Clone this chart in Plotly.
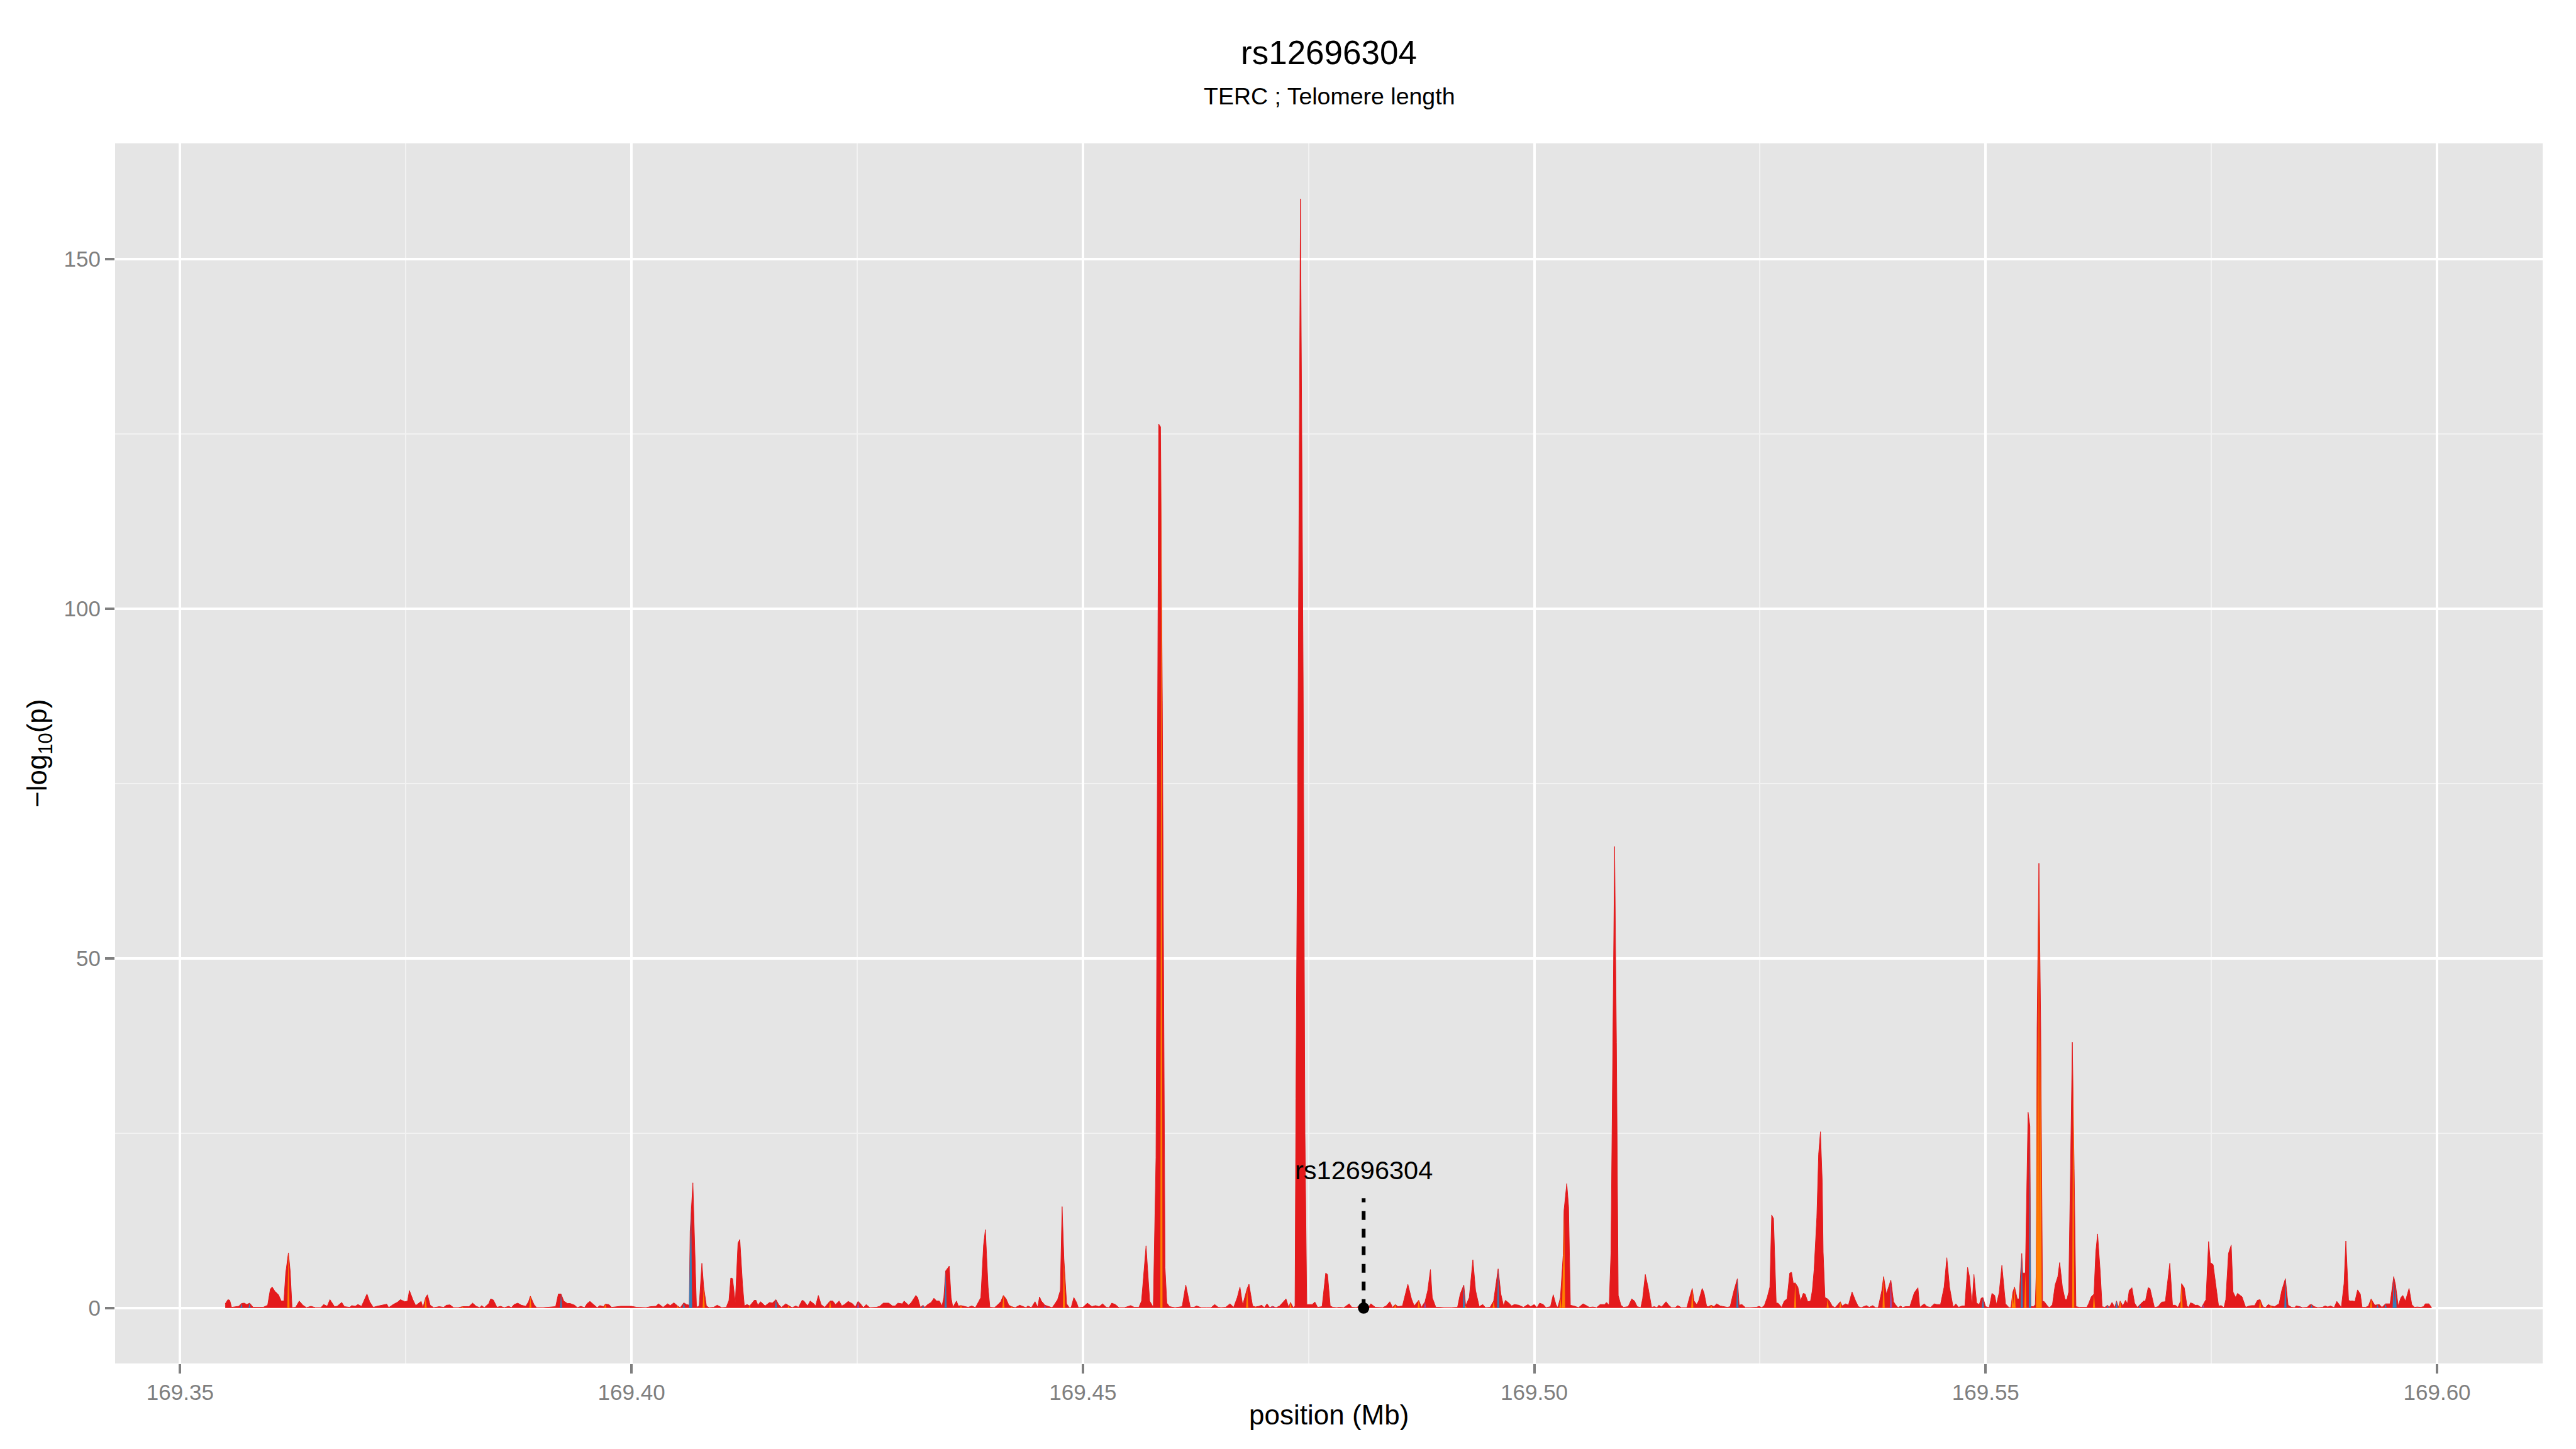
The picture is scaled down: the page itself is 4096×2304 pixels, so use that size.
import plotly.graph_objects as go

# ---------------- data (position in Mb, -log10 p) ----------------
red_35_40 = [
    (169.3550, 0.6), (169.3553, 1.2), (169.3555, 1.1), (169.3557, 0.1), (169.3565, 0.25),
    (169.3568, 0.65), (169.3571, 0.7), (169.3574, 0.5), (169.3577, 0.7), (169.3581, 0.1),
    (169.3592, 0.1), (169.3597, 0.4), (169.3600, 2.7), (169.3602, 3.0), (169.3605, 2.4),
    (169.3609, 1.9), (169.3612, 1.0), (169.3615, 1.0), (169.3617, 5.0), (169.3620, 7.9),
    (169.3622, 5.2), (169.3624, 0.05), (169.3628, 0.1), (169.3632, 1.0), (169.3636, 0.4),
    (169.3640, 0.05), (169.3645, 0.25), (169.3650, 0.05), (169.3656, 0.05), (169.3659, 0.5),
    (169.3663, 0.25), (169.3666, 1.2), (169.3671, 0.2), (169.3674, 0.25), (169.3679, 0.8),
    (169.3682, 0.2), (169.3688, 0.1), (169.3690, 0.35), (169.3694, 0.25), (169.3697, 0.5),
    (169.3701, 0.25), (169.3707, 2.0), (169.3710, 0.9), (169.3714, 0.1), (169.3718, 0.25),
    (169.3723, 0.4), (169.3729, 0.55), (169.3731, 0.05), (169.3736, 0.5), (169.3741, 0.85),
    (169.3744, 1.2), (169.3749, 0.9), (169.3752, 1.0), (169.3754, 2.5), (169.3758, 1.15),
    (169.3761, 0.35), (169.3764, 0.65), (169.3767, 0.95), (169.3769, 0.05), (169.3772, 1.5),
    (169.3774, 1.9), (169.3777, 0.4), (169.3781, 0.05), (169.3787, 0.2), (169.3792, 0.1),
    (169.3795, 0.4), (169.3799, 0.45), (169.3803, 0.05), (169.3808, 0.05), (169.3813, 0.2),
    (169.3820, 0.2), (169.3824, 0.7), (169.3828, 0.25), (169.3832, 0.05), (169.3834, 0.35),
    (169.3837, 0.05), (169.3842, 0.65), (169.3844, 1.3), (169.3847, 1.15), (169.3851, 0.1),
    (169.3855, 0.25), (169.3859, 0.05), (169.3864, 0.25), (169.3867, 0.05), (169.3870, 0.5),
    (169.3874, 0.7), (169.3878, 0.4), (169.3883, 0.25), (169.3886, 0.9), (169.3888, 1.7),
    (169.3892, 0.5), (169.3895, 0.05), (169.3902, 0.05), (169.3907, 0.1), (169.3911, 0.2),
    (169.3916, 0.2), (169.3919, 2.0), (169.3922, 2.0), (169.3925, 1.0), (169.3929, 0.65),
    (169.3932, 0.65), (169.3937, 0.4), (169.3940, 0.05), (169.3944, 0.25), (169.3948, 0.05),
    (169.3951, 0.65), (169.3954, 0.95), (169.3959, 0.4), (169.3962, 0.05), (169.3965, 0.35),
    (169.3969, 0.2), (169.3971, 0.55), (169.3975, 0.5), (169.3978, 0.1), (169.3983, 0.2),
    (169.3988, 0.25), (169.4000, 0.25),
]

red_40_45 = [
    (169.4006, 0.1), (169.4016, 0.05), (169.4021, 0.2), (169.4027, 0.25), (169.4030, 0.6),
    (169.4035, 0.1), (169.4040, 0.6), (169.4043, 0.35), (169.4047, 0.75), (169.4051, 0.3),
    (169.4054, 0.05), (169.4058, 0.75), (169.4061, 0.5), (169.4064, 0.4), (169.4065, 11.0),
    (169.4068, 17.9), (169.4070, 8.6), (169.4072, 0.1), (169.4075, 0.3), (169.4078, 6.4),
    (169.4080, 3.0), (169.4083, 0.3), (169.4086, 0.05), (169.4091, 0.1), (169.4095, 0.4),
    (169.4100, 0.05), (169.4105, 0.1), (169.4108, 1.1), (169.4110, 4.3), (169.4112, 4.2),
    (169.4115, 0.7), (169.4118, 9.3), (169.4120, 9.8), (169.4123, 3.4), (169.4125, 0.3),
    (169.4128, 0.5), (169.4131, 0.3), (169.4136, 1.1), (169.4138, 1.1), (169.4140, 0.4),
    (169.4143, 0.9), (169.4148, 0.3), (169.4153, 0.8), (169.4156, 0.7), (169.4160, 1.2),
    (169.4163, 0.5), (169.4166, 0.1), (169.4171, 0.6), (169.4174, 0.35), (169.4178, 0.05),
    (169.4182, 0.3), (169.4185, 0.1), (169.4189, 1.1), (169.4191, 1.0), (169.4195, 0.3),
    (169.4198, 1.0), (169.4202, 0.6), (169.4204, 0.3), (169.4207, 1.8), (169.4210, 0.5),
    (169.4214, 0.1), (169.4220, 1.0), (169.4223, 1.0), (169.4226, 0.5), (169.4230, 1.0),
    (169.4233, 0.3), (169.4236, 0.5), (169.4240, 0.95), (169.4245, 0.6), (169.4248, 0.15),
    (169.4251, 0.95), (169.4253, 0.7), (169.4257, 0.05), (169.4260, 0.5), (169.4264, 0.05),
    (169.4271, 0.1), (169.4275, 0.25), (169.4279, 0.7), (169.4285, 0.7), (169.4289, 0.3),
    (169.4292, 0.3), (169.4295, 0.7), (169.4300, 0.6), (169.4302, 1.0), (169.4307, 0.4),
    (169.4310, 0.8), (169.4313, 1.4), (169.4315, 1.8), (169.4317, 1.5), (169.4320, 0.1),
    (169.4323, 0.4), (169.4325, 0.1), (169.4328, 0.5), (169.4332, 0.8), (169.4335, 1.4),
    (169.4338, 1.0), (169.4341, 1.0), (169.4344, 0.3), (169.4346, 1.5), (169.4348, 5.3),
    (169.4352, 6.0), (169.4354, 1.5), (169.4356, 0.1), (169.4360, 1.0), (169.4362, 0.3),
    (169.4365, 0.35), (169.4370, 0.2), (169.4373, 0.1), (169.4377, 0.3), (169.4381, 0.05),
    (169.4387, 1.5), (169.4390, 9.0), (169.4392, 11.2), (169.4395, 3.0), (169.4397, 0.1),
    (169.4402, 0.05), (169.4406, 0.5), (169.4409, 0.9), (169.4412, 1.8), (169.4415, 1.3),
    (169.4418, 0.4), (169.4421, 0.2), (169.4425, 0.05), (169.4430, 0.4), (169.4434, 0.2),
    (169.4437, 0.05), (169.4439, 0.3), (169.4443, 0.05), (169.4447, 0.9), (169.4450, 0.1),
    (169.4452, 1.6), (169.4454, 1.0), (169.4458, 0.4), (169.4462, 0.25), (169.4466, 0.05),
    (169.4469, 0.6), (169.4472, 1.2), (169.4475, 2.5), (169.4477, 14.5), (169.4479, 7.0),
    (169.4482, 0.6), (169.4485, 0.05), (169.4487, 0.05), (169.4490, 1.5), (169.4493, 0.8),
    (169.4495, 0.05), (169.4500, 0.1),
]

red_45_50 = [
    (169.4505, 0.7), (169.4510, 0.2), (169.4514, 0.35), (169.4518, 0.2), (169.4522, 0.6),
    (169.4526, 0.1), (169.4529, 0.05), (169.4532, 0.7), (169.4536, 0.5), (169.4540, 0.05),
    (169.4546, 0.05), (169.4553, 0.35), (169.4557, 0.1), (169.4562, 0.1), (169.4565, 1.0),
    (169.4570, 8.9), (169.4574, 1.0), (169.4578, 0.1), (169.4581, 21.5), (169.4583, 101.5),
    (169.4584, 126.4), (169.4586, 126.0), (169.4588, 86.8), (169.4591, 5.8), (169.4593, 0.7),
    (169.4596, 0.2), (169.4599, 0.1), (169.4602, 0.05), (169.4610, 0.2), (169.4614, 3.3),
    (169.4619, 0.1), (169.4623, 0.1), (169.4626, 0.3), (169.4631, 0.05), (169.4637, 0.05),
    (169.4642, 0.05), (169.4646, 0.5), (169.4650, 0.1), (169.4653, 0.05), (169.4658, 0.1),
    (169.4663, 0.6), (169.4667, 0.1), (169.4671, 1.5), (169.4674, 3.0), (169.4677, 0.4),
    (169.4682, 2.8), (169.4684, 3.4), (169.4688, 0.3), (169.4691, 0.15), (169.4695, 0.25),
    (169.4698, 0.4), (169.4701, 0.05), (169.4704, 0.6), (169.4707, 0.05), (169.4710, 0.25),
    (169.4714, 0.05), (169.4718, 0.3), (169.4725, 1.3), (169.4728, 0.1), (169.4730, 0.8),
    (169.4733, 0.05), (169.4735, 0.3), (169.4736, 30.0), (169.4738, 75.0), (169.4741, 158.6),
    (169.4744, 90.0), (169.4746, 25.0), (169.4748, 0.5), (169.4754, 0.5), (169.4757, 0.85),
    (169.4760, 0.1), (169.4765, 0.2), (169.4769, 5.0), (169.4771, 4.8), (169.4774, 0.3),
    (169.4777, 0.1), (169.4781, 0.05), (169.4784, 0.1), (169.4789, 0.05), (169.4795, 0.6),
    (169.4798, 0.1), (169.4803, 0.05), (169.4806, 0.3), (169.4811, 0.05), (169.4816, 0.05),
    (169.4819, 0.6), (169.4824, 0.1), (169.4828, 0.1), (169.4832, 0.05), (169.4836, 0.3),
    (169.4840, 0.9), (169.4843, 0.1), (169.4846, 0.5), (169.4849, 0.2), (169.4854, 0.3),
    (169.4860, 3.4), (169.4864, 1.3), (169.4867, 0.3), (169.4872, 1.1), (169.4875, 0.1),
    (169.4879, 0.9), (169.4882, 2.5), (169.4885, 5.5), (169.4887, 1.5), (169.4891, 0.1),
    (169.4895, 0.1), (169.4900, 0.05), (169.4908, 0.05), (169.4915, 0.1), (169.4918, 2.0),
    (169.4922, 3.3), (169.4924, 0.3), (169.4928, 1.5), (169.4932, 6.9), (169.4935, 2.5),
    (169.4939, 0.2), (169.4943, 0.5), (169.4946, 0.05), (169.4951, 0.1), (169.4955, 1.0),
    (169.4960, 5.6), (169.4963, 2.0), (169.4966, 0.3), (169.4968, 1.1), (169.4972, 0.7),
    (169.4975, 0.3), (169.4978, 0.5), (169.4983, 0.4), (169.4988, 0.1), (169.4993, 0.5),
    (169.4996, 0.2), (169.5000, 0.5),
]

red_50_55 = [
    (169.5003, 0.05), (169.5006, 0.7), (169.5010, 0.5), (169.5013, 0.05), (169.5018, 0.2),
    (169.5021, 1.9), (169.5024, 0.5), (169.5026, 0.05), (169.5029, 1.5), (169.5032, 7.5),
    (169.5033, 14.0), (169.5036, 17.8), (169.5038, 14.5), (169.5040, 0.4), (169.5045, 0.25),
    (169.5049, 0.05), (169.5054, 0.6), (169.5057, 0.4), (169.5061, 0.1), (169.5065, 0.15),
    (169.5069, 0.05), (169.5073, 0.5), (169.5078, 0.5), (169.5080, 0.8), (169.5083, 0.4),
    (169.5085, 8.0), (169.5087, 40.0), (169.5089, 66.0), (169.5091, 38.0), (169.5093, 1.8),
    (169.5096, 0.4), (169.5099, 0.1), (169.5104, 0.2), (169.5108, 1.3), (169.5111, 1.0),
    (169.5114, 0.2), (169.5118, 0.05), (169.5120, 1.3), (169.5123, 4.8), (169.5126, 3.0),
    (169.5130, 0.1), (169.5133, 0.2), (169.5136, 0.05), (169.5138, 0.4), (169.5141, 0.15),
    (169.5146, 0.9), (169.5149, 0.4), (169.5152, 0.05), (169.5156, 0.05), (169.5159, 0.35),
    (169.5163, 0.05), (169.5169, 0.05), (169.5172, 1.5), (169.5175, 2.8), (169.5177, 1.0),
    (169.5180, 0.5), (169.5182, 1.0), (169.5186, 2.8), (169.5188, 2.2), (169.5191, 0.2),
    (169.5193, 0.2), (169.5196, 0.4), (169.5199, 0.2), (169.5202, 0.6), (169.5206, 0.3),
    (169.5210, 0.2), (169.5214, 0.1), (169.5217, 0.2), (169.5221, 2.4), (169.5225, 4.2),
    (169.5227, 0.4), (169.5230, 0.5), (169.5234, 0.05), (169.5239, 0.05), (169.5246, 0.1),
    (169.5249, 0.25), (169.5252, 0.05), (169.5255, 0.4), (169.5258, 1.5), (169.5261, 3.0),
    (169.5263, 13.3), (169.5265, 12.8), (169.5268, 0.7), (169.5270, 0.7), (169.5274, 0.1),
    (169.5277, 1.0), (169.5280, 1.3), (169.5283, 5.0), (169.5285, 5.1), (169.5287, 3.5),
    (169.5289, 3.6), (169.5292, 3.0), (169.5295, 1.0), (169.5298, 2.1), (169.5300, 2.0),
    (169.5303, 0.9), (169.5306, 1.0), (169.5308, 2.5), (169.5310, 5.5), (169.5313, 13.0),
    (169.5315, 22.0), (169.5317, 25.2), (169.5319, 18.0), (169.5320, 8.0), (169.5322, 1.5),
    (169.5325, 1.3), (169.5327, 1.0), (169.5330, 0.3), (169.5333, 0.05), (169.5336, 0.45),
    (169.5339, 0.9), (169.5341, 0.3), (169.5345, 0.6), (169.5348, 0.4), (169.5352, 2.3),
    (169.5356, 1.0), (169.5359, 0.2), (169.5362, 0.05), (169.5365, 0.2), (169.5368, 0.35),
    (169.5371, 0.1), (169.5375, 0.35), (169.5378, 0.05), (169.5381, 0.05), (169.5385, 2.5),
    (169.5387, 4.5), (169.5390, 2.0), (169.5392, 2.8), (169.5395, 4.0), (169.5398, 0.9),
    (169.5400, 0.5), (169.5403, 0.05), (169.5406, 0.3), (169.5408, 0.05), (169.5411, 0.2),
    (169.5416, 0.2), (169.5421, 2.2), (169.5425, 2.9), (169.5427, 0.1), (169.5432, 0.6),
    (169.5435, 0.2), (169.5439, 0.1), (169.5443, 0.6), (169.5446, 0.5), (169.5450, 0.5),
    (169.5454, 3.0), (169.5457, 7.2), (169.5460, 3.0), (169.5464, 0.1), (169.5467, 0.6),
    (169.5470, 0.1), (169.5474, 0.3), (169.5477, 0.3), (169.5480, 5.8), (169.5482, 4.5),
    (169.5485, 0.4), (169.5487, 4.8), (169.5490, 0.7), (169.5493, 0.5), (169.5495, 1.4),
    (169.5497, 1.5), (169.5500, 0.2),
]

red_55_60 = [
    (169.5504, 0.05), (169.5507, 2.1), (169.5510, 1.8), (169.5512, 0.5), (169.5515, 2.2),
    (169.5518, 6.1), (169.5520, 3.0), (169.5522, 0.6), (169.5526, 0.05), (169.5528, 0.05),
    (169.5530, 2.2), (169.5532, 3.0), (169.5535, 1.3), (169.5537, 1.3), (169.5540, 7.8),
    (169.5541, 5.0), (169.5544, 5.0), (169.5547, 28.0), (169.5549, 26.0), (169.5550, 0.2),
    (169.5553, 0.2), (169.5555, 0.5), (169.5556, 5.0), (169.5557, 40.0), (169.5559, 63.6),
    (169.5561, 40.0), (169.5563, 1.0), (169.5565, 0.9), (169.5569, 0.2), (169.5571, 0.05),
    (169.5574, 0.5), (169.5577, 3.3), (169.5580, 4.5), (169.5582, 6.5), (169.5585, 3.0),
    (169.5588, 1.2), (169.5590, 1.2), (169.5592, 2.3), (169.5594, 20.0), (169.5596, 38.0),
    (169.5598, 20.0), (169.5600, 0.2), (169.5604, 0.1), (169.5608, 0.1), (169.5612, 0.1),
    (169.5614, 0.6), (169.5617, 1.6), (169.5620, 2.0), (169.5622, 8.0), (169.5624, 10.6),
    (169.5627, 5.0), (169.5629, 0.2), (169.5632, 0.1), (169.5635, 0.4), (169.5637, 0.1),
    (169.5640, 0.8), (169.5643, 0.1), (169.5645, 1.0), (169.5647, 0.1), (169.5649, 1.0),
    (169.5652, 0.3), (169.5655, 1.1), (169.5657, 0.6), (169.5659, 2.5), (169.5662, 2.9),
    (169.5665, 0.7), (169.5668, 0.1), (169.5671, 0.5), (169.5675, 1.0), (169.5677, 1.0),
    (169.5680, 2.9), (169.5682, 2.8), (169.5687, 0.05), (169.5691, 0.2), (169.5695, 0.85),
    (169.5699, 0.9), (169.5702, 4.0), (169.5704, 6.4), (169.5707, 0.4), (169.5710, 0.4),
    (169.5713, 0.1), (169.5716, 1.0), (169.5717, 3.5), (169.5720, 2.9), (169.5723, 0.3),
    (169.5725, 0.1), (169.5727, 0.75), (169.5730, 0.6), (169.5732, 0.4), (169.5735, 0.4),
    (169.5739, 0.05), (169.5741, 0.5), (169.5744, 1.2), (169.5747, 9.5), (169.5749, 6.5),
    (169.5752, 6.2), (169.5755, 3.0), (169.5758, 0.3), (169.5761, 0.35), (169.5764, 0.05),
    (169.5766, 1.2), (169.5769, 7.8), (169.5772, 9.0), (169.5774, 2.3), (169.5777, 1.5),
    (169.5779, 2.1), (169.5782, 1.8), (169.5784, 1.6), (169.5788, 0.1), (169.5792, 0.3),
    (169.5795, 0.35), (169.5798, 0.35), (169.5801, 1.1), (169.5804, 1.2), (169.5807, 0.2),
    (169.5810, 0.05), (169.5813, 0.5), (169.5816, 0.3), (169.5820, 0.2), (169.5825, 0.6),
    (169.5828, 2.5), (169.5832, 4.2), (169.5835, 0.4), (169.5839, 0.1), (169.5842, 0.05),
    (169.5844, 0.3), (169.5848, 0.2), (169.5851, 0.05), (169.5856, 0.1), (169.5859, 0.45),
    (169.5861, 0.5), (169.5864, 0.2), (169.5868, 0.05), (169.5873, 0.1), (169.5876, 0.3),
    (169.5879, 0.15), (169.5882, 0.3), (169.5886, 0.05), (169.5889, 0.95), (169.5894, 0.1),
    (169.5897, 3.5), (169.5899, 9.6), (169.5902, 1.1), (169.5904, 1.0), (169.5907, 1.0),
    (169.5909, 0.9), (169.5912, 2.6), (169.5915, 2.0), (169.5917, 0.1), (169.5921, 0.1),
    (169.5924, 0.3), (169.5927, 1.3), (169.5931, 0.4), (169.5934, 0.5), (169.5936, 0.5),
    (169.5939, 0.1), (169.5943, 0.6), (169.5948, 0.6), (169.5952, 4.5), (169.5954, 3.3),
    (169.5957, 0.3), (169.5960, 1.5), (169.5962, 1.8), (169.5965, 1.0), (169.5969, 2.8),
    (169.5972, 0.5), (169.5975, 0.1), (169.5978, 0.15), (169.5982, 0.1), (169.5985, 0.2),
    (169.5987, 0.6), (169.5991, 0.6), (169.5994, 0.05),
]

blue_peaks = [
    (169.3568, 0.65), (169.3577, 0.7), (169.3922, 2.0), (169.4058, 0.75), (169.4065, 11.0),
    (169.4066, 15.5), (169.4160, 1.2), (169.4323, 0.4), (169.4348, 5.3), (169.4922, 3.3),
    (169.4960, 5.6), (169.5225, 4.2), (169.5497, 1.5), (169.5540, 7.8), (169.5549, 25.0),
    (169.5635, 0.4), (169.5645, 1.0), (169.5671, 0.5), (169.5832, 4.2), (169.5861, 0.5),
    (169.5934, 0.5), (169.5943, 0.6), (169.5952, 4.5), (169.5954, 3.3),
]

orange_peaks = [
    (169.3620, 7.9), (169.3772, 1.5), (169.3813, 0.2), (169.3888, 1.7), (169.3971, 0.55),
    (169.4051, 0.3), (169.4080, 3.0), (169.4131, 0.3), (169.4174, 0.35), (169.4220, 1.0),
    (169.4365, 0.35), (169.4412, 1.8), (169.4421, 0.2), (169.4479, 7.0), (169.4587, 125.0),
    (169.4682, 2.8), (169.4691, 0.15), (169.4730, 0.8), (169.4846, 0.5), (169.4872, 1.1),
    (169.4924, 0.3), (169.4955, 1.0), (169.5029, 1.5), (169.5032, 7.5), (169.5033, 14.0),
    (169.5175, 2.8), (169.5196, 0.4), (169.5289, 3.6), (169.5325, 1.3), (169.5339, 0.9),
    (169.5387, 4.5), (169.5530, 2.2), (169.5532, 3.0), (169.5544, 5.0), (169.5557, 40.0),
    (169.5559, 63.6), (169.5561, 40.0), (169.5597, 35.0), (169.5620, 2.0), (169.5649, 1.0),
    (169.5717, 3.5), (169.5804, 1.2), (169.5816, 0.3), (169.5927, 1.3),
]

purple_peaks = [
    (169.4251, 0.95), (169.4458, 0.4), (169.4710, 0.25), (169.4879, 0.9), (169.5395, 4.0),
    (169.5741, 0.5), (169.5848, 0.2),
]

x_tick_values = [169.35, 169.40, 169.45, 169.50, 169.55, 169.60]
x_tick_labels = ["169.35", "169.40", "169.45", "169.50", "169.55", "169.60"]
x_minor_values = [169.375, 169.425, 169.475, 169.525, 169.575]
y_tick_values = [0, 50, 100, 150]
y_tick_labels = ["0", "50", "100", "150"]
y_minor_values = [25, 75, 125]

lead_snp = "rs12696304"
lead_position = 169.4811
lead_logp = 0.0
lead_label_height = 19.7
lead_line_top = 15.7

title_text = "rs12696304"
subtitle_text = "TERC ; Telomere length"
x_title = "position (Mb)"
y_title = "\u2212log<sub>10</sub>(p)"

# ---------------- styles ----------------
FONT = "Liberation Sans, Arial, Helvetica, sans-serif"
RED = "#E41A1C"
ORANGE = "#FF7F00"
BLUE = "#377EB8"
PURPLE = "#984EA3"
HALF_W = 0.00012  # half base-width of a coloured spike (Mb)

PAGE_W, PAGE_H = 4096, 2304
BODY = 8  # default page margin around the figure
W, H = PAGE_W - BODY, PAGE_H - BODY
# target panel edges on the page: left 183, right 4043, top 228, bottom 2168
ML, MR, MT, MB = 183 - BODY, 53, 228 - BODY, 136
PH = H - MT - MB
PW = W - ML - MR


def py(page_px):
    """page pixel row -> paper y"""
    return (2168 - page_px) / PH


def px(page_px):
    """page pixel column -> paper x"""
    return (page_px - 183) / PW


red_points = red_35_40 + red_40_45 + red_45_50 + red_50_55 + red_55_60
red_x = [p[0] for p in red_points]
red_y = [p[1] for p in red_points]


def spikes(points):
    xs, ys = [], []
    for x, y in points:
        xs += [x - HALF_W, x, x + HALF_W, None]
        ys += [0, y, 0, None]
    return xs, ys


fig = go.Figure()
fig.add_trace(go.Scatter(
    x=red_x, y=red_y, mode="lines", fill="tozeroy",
    line=dict(color=RED, width=1), fillcolor=RED, hoverinfo="skip", showlegend=False))

for pts, col in [(orange_peaks, ORANGE), (blue_peaks, BLUE), (purple_peaks, PURPLE)]:
    sx, sy = spikes(pts)
    fig.add_trace(go.Scatter(
        x=sx, y=sy, mode="lines", fill="toself", line=dict(color=col, width=0),
        fillcolor=col, hoverinfo="skip", showlegend=False))

fig.add_trace(go.Scatter(
    x=[lead_position, lead_position], y=[lead_logp, lead_line_top], mode="lines",
    line=dict(color="black", width=6, dash="14px,14px"), hoverinfo="skip", showlegend=False))
fig.add_trace(go.Scatter(
    x=[lead_position], y=[lead_logp], mode="markers",
    marker=dict(color="black", size=18), hoverinfo="skip", showlegend=False))

annotations = [
    dict(text=lead_snp, x=lead_position, y=lead_label_height, xref="x", yref="y",
         xanchor="center", yanchor="middle", showarrow=False,
         font=dict(family=FONT, size=41.5, color="black")),
    dict(text=title_text, x=0.5, y=py(102 - 0.35 * 53), xref="paper", yref="paper",
         xanchor="center", yanchor="middle", showarrow=False,
         font=dict(family=FONT, size=53, color="black")),
    dict(text=subtitle_text, x=0.5, y=py(166 - 0.35 * 37.5), xref="paper", yref="paper",
         xanchor="center", yanchor="middle", showarrow=False,
         font=dict(family=FONT, size=37.5, color="black")),
    dict(text=x_title, x=0.5, y=py(2265 - 0.35 * 44), xref="paper", yref="paper",
         xanchor="center", yanchor="middle", showarrow=False,
         font=dict(family=FONT, size=44, color="black")),
    dict(text=y_title, x=px(62), y=0.5, xref="paper", yref="paper",
         xanchor="center", yanchor="middle", showarrow=False, textangle=-90,
         font=dict(family=FONT, size=44, color="black")),
]

axis_common = dict(
    showgrid=True, gridcolor="white", gridwidth=3.8, zeroline=False, showline=False,
    ticks="outside", ticklen=15, tickwidth=3.5, tickcolor="#7F7F7F",
    tickfont=dict(family=FONT, size=35, color="#7F7F7F"),
)

fig.update_layout(
    width=W, height=H, margin=dict(l=ML, r=MR, t=MT, b=MB, autoexpand=False),
    paper_bgcolor="white", plot_bgcolor="#E5E5E5", showlegend=False,
    font=dict(family=FONT),
    xaxis=dict(range=[169.3428, 169.6117], tickmode="array", tickvals=x_tick_values,
               ticktext=x_tick_labels,
               minor=dict(tickvals=x_minor_values, showgrid=True, gridcolor="#F2F2F2",
                          gridwidth=1.9, ticks=""),
               **axis_common),
    yaxis=dict(range=[-7.93, 166.53], tickmode="array", tickvals=y_tick_values,
               ticktext=y_tick_labels,
               minor=dict(tickvals=y_minor_values, showgrid=True, gridcolor="#F2F2F2",
                          gridwidth=1.9, ticks=""),
               **axis_common),
    annotations=annotations,
)

fig.write_html("out.html")
